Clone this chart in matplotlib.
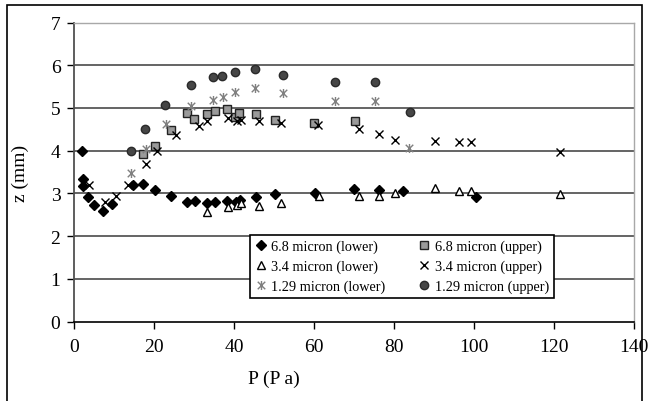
import numpy as np
import matplotlib.pyplot as plt
from matplotlib.path import Path
from matplotlib.patches import Rectangle

plt.rcParams['font.family'] = ['Liberation Serif', 'DejaVu Serif']

# 6.8 micron (lower)
p68_lo = [2, 2.3, 2.1, 3.5, 4.9, 7.1, 9.5, 14.7, 17.1, 20.2, 24.2, 28.1, 30.1, 33.1, 35.1,
          38.2, 40.4, 41.5, 45.4, 50.2, 60.2, 70.0, 76.2, 82.2, 100.3]
z68_lo = [4.0, 3.35, 3.17, 2.91, 2.73, 2.6, 2.76, 3.2, 3.23, 3.08, 2.94, 2.81, 2.82, 2.77, 2.8,
          2.83, 2.81, 2.85, 2.92, 2.99, 3.01, 3.1, 3.09, 3.06, 2.91]
# 6.8 micron (upper)
p68_up = [17.1, 20.2, 24.2, 28.1, 30.0, 33.1, 35.2, 38.1, 40.3, 41.3, 45.4, 50.1, 60.0, 70.1]
z68_up = [3.92, 4.12, 4.48, 4.89, 4.75, 4.86, 4.93, 4.98, 4.80, 4.89, 4.87, 4.73, 4.66, 4.69]
# 3.4 micron (lower)
p34_lo = [33.1, 38.5, 40.6, 41.8, 46.2, 51.6, 61.2, 71.2, 76.2, 80.2, 90.1, 96.1, 99.1, 121.3]
z34_lo = [2.57, 2.68, 2.73, 2.78, 2.71, 2.77, 2.93, 2.93, 2.93, 3.0, 3.13, 3.05, 3.05, 2.99]
# 3.4 micron (upper)
p34_up = [3.8, 7.8, 10.5, 13.5, 17.9, 20.8, 25.5, 31.2, 33.1, 38.5, 40.6, 41.8, 46.1, 51.6,
          61.0, 71.1, 76.2, 80.2, 90.1, 96.1, 99.1, 121.3]
z34_up = [3.2, 2.81, 2.95, 3.2, 3.7, 3.99, 4.37, 4.59, 4.69, 4.76, 4.69, 4.73, 4.70, 4.66,
          4.60, 4.50, 4.40, 4.26, 4.22, 4.2, 4.2, 3.98]
# 1.29 micron (lower)
p129_lo = [14.2, 17.9, 22.9, 29.1, 34.8, 37.3, 40.2, 45.2, 52.1, 65.2, 75.2, 83.7]
z129_lo = [3.49, 4.03, 4.63, 5.04, 5.19, 5.26, 5.37, 5.47, 5.35, 5.16, 5.16, 4.07]
# 1.29 micron (upper)
p129_up = [14.2, 17.8, 22.8, 29.1, 34.7, 37.0, 40.1, 45.2, 52.1, 65.2, 75.2, 83.9]
z129_up = [3.99, 4.52, 5.06, 5.54, 5.72, 5.75, 5.84, 5.92, 5.78, 5.61, 5.61, 4.91]

xticks = [0, 20, 40, 60, 80, 100, 120, 140]
yticks = [0, 1, 2, 3, 4, 5, 6, 7]

# Excel style star: x with a vertical bar
star = Path([(-1, -1), (1, 1), (-1, 1), (1, -1), (0, -1.2), (0, 1.2)],
            [Path.MOVETO, Path.LINETO, Path.MOVETO, Path.LINETO, Path.MOVETO, Path.LINETO])

fig = plt.figure(figsize=(6.51, 4.02), dpi=100)
fig.patches.append(Rectangle((7 / 651, -0.05), (642 - 7) / 651, 1.05 - 6 / 402,
                             transform=fig.transFigure, fill=False, ec='black', lw=1.2))
ax = fig.add_axes([0.1141, 0.1973, 0.8603, 0.7442])

for y in yticks[1:-1]:
    ax.axhline(y, color='#3a3a3a', lw=1.1, zorder=1)

h1, = ax.plot(p68_lo, z68_lo, ls='none', marker='D', ms=4.8, mfc='black', mec='black',
              label='6.8 micron (lower)', zorder=3)
h2, = ax.plot(p68_up, z68_up, ls='none', marker='s', ms=5.8, mfc='#9a9a9a', mec='#222222',
              mew=1.0, label='6.8 micron (upper)', zorder=3)
h3, = ax.plot(p34_lo, z34_lo, ls='none', marker='^', ms=6.2, mfc='white', mec='black',
              mew=1.0, label='3.4 micron (lower)', zorder=3)
h4, = ax.plot(p34_up, z34_up, ls='none', marker='x', ms=5.8, mec='black', mew=1.0,
              label='3.4 micron (upper)', zorder=3)
h5, = ax.plot(p129_lo, z129_lo, ls='none', marker=star, ms=6.5, mfc='none', mec='#808080',
              mew=1.0, label='1.29 micron (lower)', zorder=3)
h6, = ax.plot(p129_up, z129_up, ls='none', marker='o', ms=6, mfc='#464646', mec='#2a2a2a',
              label='1.29 micron (upper)', zorder=3)

ax.set_xlim(0, 140)
ax.set_ylim(0, 7)
ax.set_xticks(xticks)
ax.set_yticks(yticks)
ax.tick_params(axis='both', direction='out', length=5, width=1, labelsize=14,
               color='black', pad=5)
ax.tick_params(axis='x', pad=7)

for s in ['top', 'right']:
    ax.spines[s].set_color('#a8a8a8')
    ax.spines[s].set_linewidth(1)
ax.spines['left'].set_color('#505050')
ax.spines['left'].set_linewidth(1.3)
ax.spines['bottom'].set_color('black')
ax.spines['bottom'].set_linewidth(1.2)

ax.set_xlabel('P (P a)', fontsize=14)
ax.set_ylabel('z (mm)', fontsize=14)
ax.xaxis.set_label_coords(0.357, -0.16)
ax.yaxis.set_label_coords(-0.08, 0.5)

leg = ax.legend([h1, h3, h5, h2, h4, h6],
                [h.get_label() for h in [h1, h3, h5, h2, h4, h6]],
                ncol=2, loc='lower left', bbox_to_anchor=(0.3137, 0.079, 0.543, 0.205),
                mode='expand', borderaxespad=0, fontsize=10.3, handlelength=0.8,
                handletextpad=0.35, labelspacing=0.45, borderpad=0.35, columnspacing=1.0,
                fancybox=False, framealpha=1, edgecolor='black')
leg.get_frame().set_linewidth(1.2)

fig.savefig('out.png', dpi=100)
